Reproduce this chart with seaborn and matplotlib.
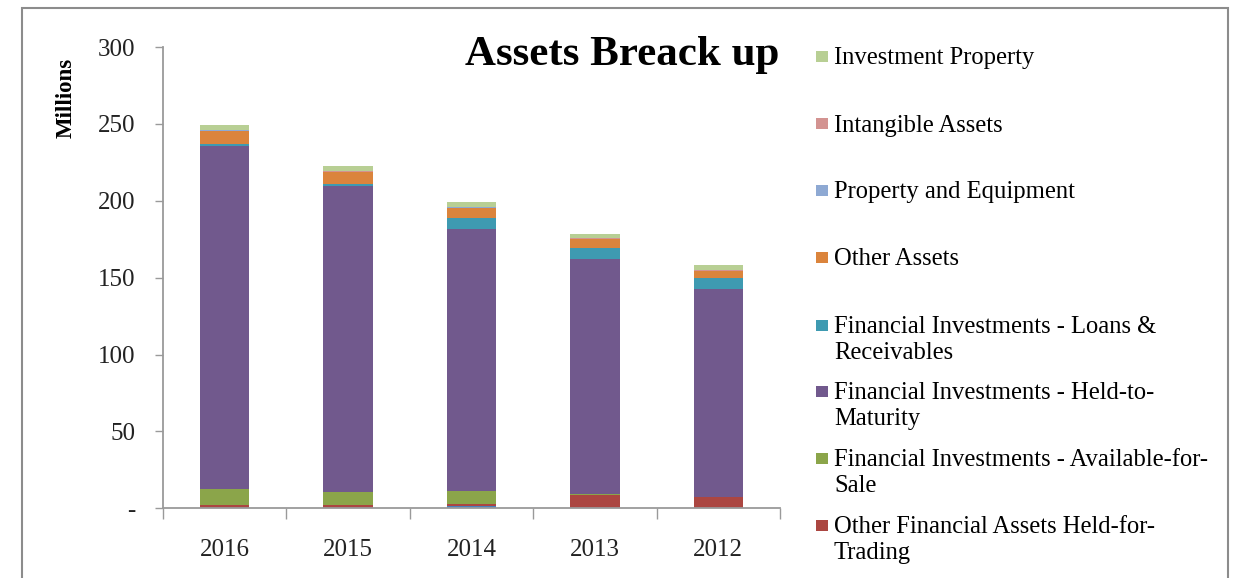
import matplotlib
matplotlib.use("Agg")
import matplotlib.pyplot as plt
from matplotlib.patches import Rectangle
from matplotlib.ticker import FuncFormatter, FixedLocator
import numpy as np
import pandas as pd
import seaborn as sns

# ---- data (millions) ----
years = ["2016", "2015", "2014", "2013", "2012"]

cash_balances = [0.0, 0.0, 1.5, 0.0, 0.0]
held_for_trading = [2.3, 2.3, 1.5, 8.6, 7.1]
available_for_sale = [10.0, 8.5, 8.4, 0.5, 0.5]
held_to_maturity = [223.2, 198.5, 170.2, 152.8, 135.3]
loans_receivables = [1.3, 1.7, 7.1, 7.3, 7.1]
other_assets = [8.7, 7.4, 6.8, 5.7, 4.1]
property_equipment = [0.2, 0.2, 0.2, 0.2, 0.2]
intangible_assets = [0.6, 0.6, 0.4, 0.4, 0.4]
investment_property = [2.8, 3.3, 3.0, 2.8, 3.5]

series_labels = [
    None,
    "Other Financial Assets Held-for-\nTrading",
    "Financial Investments - Available-for-\nSale",
    "Financial Investments - Held-to-\nMaturity",
    "Financial Investments - Loans &\nReceivables",
    "Other Assets",
    "Property and Equipment",
    "Intangible Assets",
    "Investment Property",
]
series_values = [
    cash_balances, held_for_trading, available_for_sale, held_to_maturity,
    loans_receivables, other_assets, property_equipment, intangible_assets,
    investment_property,
]
series_colors = [
    "#4A7EBB", "#AB4641", "#8BA54A", "#71598D", "#3E9AB1",
    "#DB843C", "#8EA9D3", "#D39391", "#B8CF94",
]

sns.set_style("white")
plt.rcParams["font.family"] = ["Liberation Serif", "DejaVu Serif"]

W, H = 1248, 578
fig = plt.figure(figsize=(W / 100, H / 100), dpi=100)
fig.patch.set_facecolor("white")

def fx(px):
    return px / W

def fy(py):
    return 1 - py / H

ax_l, ax_r, ax_t, ax_b = 163, 780, 47, 508.3
ax = fig.add_axes([fx(ax_l), fy(ax_b), fx(ax_r - ax_l), (ax_b - ax_t) / H])

# stacked columns: draw cumulative totals from the top layer down
cum = np.cumsum(np.array(series_values), axis=0)
for i in range(len(series_values) - 1, -1, -1):
    df = pd.DataFrame({"year": years, "value": cum[i]})
    sns.barplot(data=df, x="year", y="value", order=years, color=series_colors[i],
                saturation=1, width=0.4, errorbar=None, edgecolor="none",
                linewidth=0, ax=ax)

ax.set_xlim(-0.5, 4.5)
ax.set_ylim(0, 300)
ax.set_xlabel("")
ax.set_ylabel("")

gray = "#9A9A9A"
for side in ["top", "right"]:
    ax.spines[side].set_visible(False)
for side in ["left", "bottom"]:
    ax.spines[side].set_color(gray)
    ax.spines[side].set_linewidth(1.3)

ax.set_yticks(np.arange(0, 301, 50))
ax.yaxis.set_major_formatter(FuncFormatter(lambda v, p: "-" if v == 0 else f"{v:.0f}"))
ax.tick_params(axis="y", which="major", direction="out", length=6, width=1,
               color=gray, pad=14, labelsize=18, labelcolor="#222222", left=True)

ax.xaxis.set_minor_locator(FixedLocator(np.arange(-0.5, 4.6, 1.0)))
ax.tick_params(axis="x", which="major", length=0, pad=22, labelsize=18,
               labelcolor="#222222")
ax.tick_params(axis="x", which="minor", direction="out", length=8, width=1,
               color=gray, bottom=True)

# title and unit label
fig.text(fx(622), fy(55), "Assets Breack up", ha="center", va="center",
         fontsize=31, fontweight="bold", color="black")
fig.text(fx(66), fy(98), "Millions", ha="center", va="center", rotation=90,
         fontsize=16.5, fontweight="bold", color="black")

# legend (top of the stack listed first)
legend_rows = [56, 124, 190, 257, 325, 391, 458, 525]
order = list(range(len(series_values) - 1, 0, -1))
for row_y, i in zip(legend_rows, order):
    fig.add_artist(Rectangle((fx(816), fy(row_y + 5.5)), fx(12), 11 / H,
                             transform=fig.transFigure, facecolor=series_colors[i],
                             edgecolor="none"))
    for k, line in enumerate(series_labels[i].split("\n")):
        fig.text(fx(834), fy(row_y + 2 + 26 * k), line, ha="left", va="center",
                 fontsize=17.7, color="black")

# chart area border
fig.add_artist(Rectangle((fx(22), -0.05), fx(1228 - 22), fy(8) + 0.05,
                         transform=fig.transFigure, fill=False,
                         edgecolor="#8C8C8C", linewidth=1.5))

fig.savefig("out.png", dpi=100)
